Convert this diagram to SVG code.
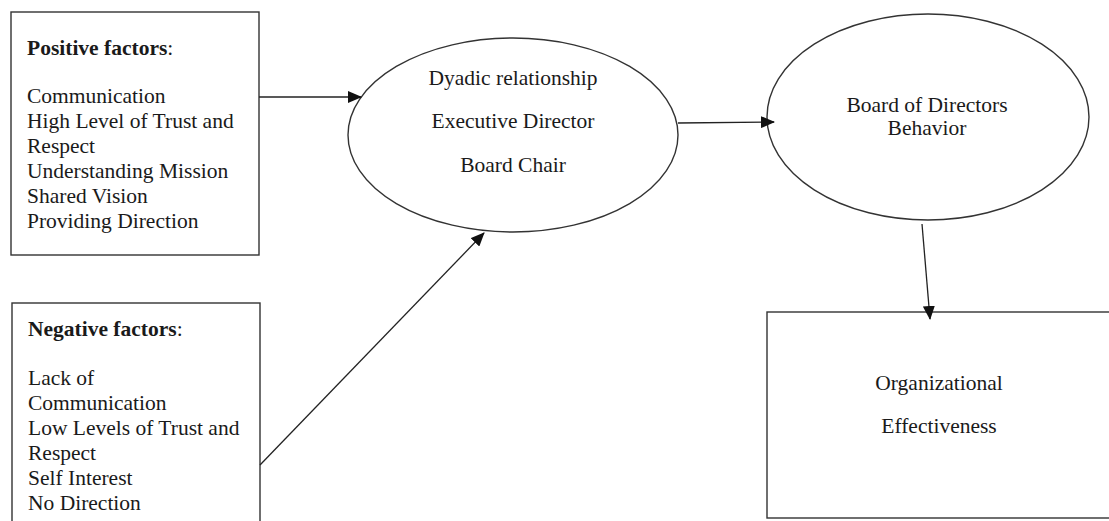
<svg xmlns="http://www.w3.org/2000/svg" width="1109" height="521" viewBox="0 0 1109 521">
  <style>
    .box { fill: #fff; stroke: #333; stroke-width: 1.4; }
    .oval { fill: #fff; stroke: #333; stroke-width: 1.4; }
    .t { font-family: "Liberation Serif", "Times New Roman", serif; font-size: 21.5px; fill: #1a1a1a; }
    .c { text-anchor: middle; }
    .b { font-weight: bold; }
    .link { stroke: #222; stroke-width: 1.3; fill: none; marker-end: url(#arrow); }
  </style>
  <defs>
    <marker id="arrow" markerUnits="userSpaceOnUse" markerWidth="14" markerHeight="12" viewBox="0 0 14 12" refX="13" refY="6" orient="auto">
      <path d="M0,0 L14,6 L0,12 Z" fill="#111"/>
    </marker>
  </defs>
  <rect width="1109" height="521" fill="#fff"/>

  <g id="positive-factors">
    <rect class="box" x="11" y="12" width="248" height="243"/>
    <text class="t" x="27" y="55"><tspan class="b">Positive factors</tspan>:</text>
    <text class="t" x="27" y="103">Communication</text>
    <text class="t" x="27" y="128">High Level of Trust and</text>
    <text class="t" x="27" y="153">Respect</text>
    <text class="t" x="27" y="178">Understanding Mission</text>
    <text class="t" x="27" y="203">Shared Vision</text>
    <text class="t" x="27" y="228">Providing Direction</text>
  </g>

  <g id="negative-factors">
    <rect class="box" x="12" y="303" width="248" height="240"/>
    <text class="t" x="28" y="336"><tspan class="b">Negative factors</tspan>:</text>
    <text class="t" x="28" y="385">Lack of</text>
    <text class="t" x="28" y="410">Communication</text>
    <text class="t" x="28" y="435">Low Levels of Trust and</text>
    <text class="t" x="28" y="460">Respect</text>
    <text class="t" x="28" y="485">Self Interest</text>
    <text class="t" x="28" y="510">No Direction</text>
  </g>

  <g id="dyadic-relationship">
    <ellipse class="oval" cx="513" cy="135" rx="165" ry="97"/>
    <text class="t c" x="513" y="85">Dyadic relationship</text>
    <text class="t c" x="513" y="128">Executive Director</text>
    <text class="t c" x="513" y="172">Board Chair</text>
  </g>

  <g id="board-behavior">
    <ellipse class="oval" cx="928" cy="117" rx="161" ry="103"/>
    <text class="t c" x="927" y="112">Board of Directors</text>
    <text class="t c" x="927" y="135">Behavior</text>
  </g>

  <g id="organizational-effectiveness">
    <rect class="box" x="767" y="312" width="360" height="206"/>
    <text class="t c" x="939" y="390">Organizational</text>
    <text class="t c" x="939" y="433">Effectiveness</text>
  </g>

  <g id="connectors">
    <line class="link" x1="259" y1="97" x2="361" y2="97"/>
    <line class="link" x1="260" y1="465" x2="484" y2="233"/>
    <line class="link" x1="678" y1="123" x2="774" y2="122"/>
    <line class="link" x1="922" y1="224" x2="930" y2="319"/>
  </g>
</svg>
